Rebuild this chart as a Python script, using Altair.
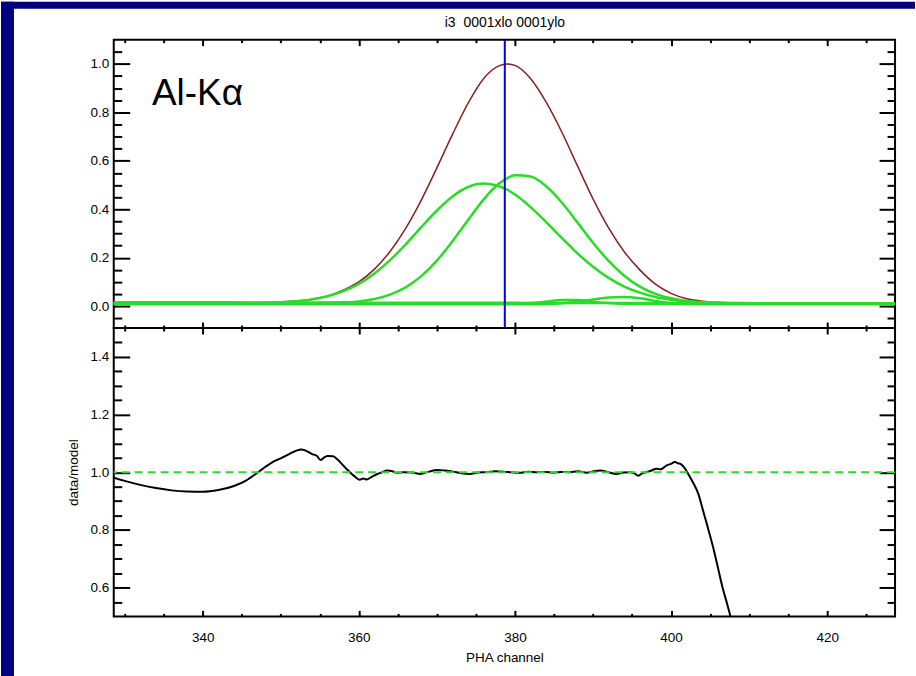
import altair as alt
import pandas as pd

# ---------------- data ----------------
X_TOP = [328, 332, 336, 340, 344, 348, 351, 354, 356, 358,
         360, 362, 364, 366, 368, 370, 372, 374, 376, 378,
         379, 380, 382, 384, 386, 388, 390, 392, 394, 396,
         398, 400, 402, 404, 407, 411, 416, 422, 429]

TOTAL_MODEL = [0.012, 0.012, 0.012, 0.013, 0.013, 0.015, 0.019, 0.029, 0.042, 0.066,
               0.100, 0.153, 0.226, 0.321, 0.438, 0.571, 0.709, 0.838, 0.940, 0.993,
               1.000, 0.994, 0.940, 0.842, 0.719, 0.580, 0.443, 0.323, 0.225, 0.150,
               0.091, 0.053, 0.031, 0.021, 0.014, 0.012, 0.012, 0.012, 0.012]

COMP_A = [0.012, 0.012, 0.012, 0.012, 0.012, 0.014, 0.018, 0.028, 0.041, 0.062,
          0.092, 0.135, 0.190, 0.255, 0.326, 0.395, 0.453, 0.492, 0.506, 0.494,
          0.481, 0.461, 0.409, 0.347, 0.282, 0.218, 0.163, 0.117, 0.081, 0.056,
          0.038, 0.027, 0.020, 0.016, 0.013, 0.012, 0.012, 0.012, 0.012]

COMP_B = [0.012, 0.012, 0.012, 0.012, 0.012, 0.012, 0.012, 0.012, 0.013, 0.016,
          0.020, 0.030, 0.048, 0.078, 0.124, 0.188, 0.268, 0.356, 0.441, 0.507,
          0.528, 0.540, 0.535, 0.495, 0.428, 0.346, 0.262, 0.187, 0.126, 0.081,
          0.051, 0.033, 0.022, 0.017, 0.013, 0.012, 0.012, 0.012, 0.012]

COMP_C = [0.010, 0.010, 0.010, 0.010, 0.010, 0.010, 0.010, 0.010, 0.010, 0.010,
          0.010, 0.010, 0.010, 0.010, 0.010, 0.010, 0.010, 0.010, 0.010, 0.010,
          0.010, 0.011, 0.013, 0.019, 0.026, 0.026, 0.019, 0.013, 0.010, 0.010,
          0.010, 0.010, 0.010, 0.010, 0.010, 0.010, 0.010, 0.010, 0.010]

COMP_D = [0.008, 0.008, 0.008, 0.008, 0.008, 0.008, 0.008, 0.008, 0.008, 0.008,
          0.008, 0.008, 0.008, 0.008, 0.008, 0.008, 0.008, 0.008, 0.008, 0.008,
          0.008, 0.008, 0.008, 0.009, 0.012, 0.018, 0.028, 0.036, 0.038, 0.033,
          0.022, 0.013, 0.009, 0.008, 0.008, 0.008, 0.008, 0.008, 0.008]

COMP_E = [0.016, 0.016, 0.016, 0.016, 0.016, 0.015, 0.015, 0.015, 0.015, 0.015,
          0.015, 0.014, 0.014, 0.014, 0.014, 0.014, 0.014, 0.014, 0.014, 0.014,
          0.014, 0.014, 0.013, 0.013, 0.013, 0.013, 0.013, 0.013, 0.013, 0.013,
          0.013, 0.013, 0.012, 0.012, 0.012, 0.012, 0.012, 0.012, 0.012]

PEAK_CHANNEL = [378.7]
LINE_LABEL = ["Al-Kα"]
LINE_LABEL_X = [333.5]
LINE_LABEL_Y = [0.83]

X_RATIO = [328.0, 330.0, 332.0, 334.0, 336.0, 338.0, 340.0, 342.0, 344.0, 345.6,
           347.0, 348.0, 349.0, 350.0, 351.0, 352.0, 352.6, 353.2, 354.0, 354.6,
           355.1, 355.5, 356.0, 356.7, 357.2, 357.6, 358.4, 359.3, 360.1, 360.6,
           361.0, 361.6, 362.3, 363.0, 363.6, 364.2, 364.9, 365.7, 366.8, 367.9,
           369.0, 370.0, 371.0, 372.1, 373.0, 374.2, 375.3, 376.4, 377.5, 378.5,
           379.5, 380.6, 381.7, 382.8, 383.9, 384.9, 386.0, 387.0, 388.1, 389.2,
           390.1, 390.9, 392.0, 393.0, 393.9, 394.7, 395.3, 395.8, 396.3, 396.8,
           397.5, 398.1, 398.7, 399.4, 399.9, 400.5, 400.9, 401.3, 401.8, 402.2,
           402.8, 403.5, 404.1, 404.7, 405.4, 406.0, 406.6, 407.2, 407.8, 408.5]

RATIO = [0.986, 0.970, 0.956, 0.945, 0.937, 0.933, 0.932, 0.938, 0.952, 0.972,
         0.998, 1.018, 1.036, 1.048, 1.062, 1.075, 1.079, 1.075, 1.063, 1.057,
         1.042, 1.050, 1.056, 1.055, 1.046, 1.035, 1.012, 0.989, 0.974, 0.978,
         0.975, 0.983, 0.993, 1.000, 1.006, 1.004, 0.998, 1.000, 0.999, 0.994,
         1.002, 1.008, 1.006, 1.002, 0.997, 0.994, 0.999, 1.000, 1.003, 1.002,
         1.000, 0.998, 1.002, 1.000, 1.001, 0.998, 1.001, 1.000, 1.003, 0.998,
         1.003, 1.006, 1.000, 0.994, 0.999, 1.000, 0.996, 0.988, 0.996, 1.000,
         1.006, 1.012, 1.010, 1.023, 1.028, 1.035, 1.031, 1.027, 1.012, 0.994,
         0.965, 0.925, 0.867, 0.809, 0.739, 0.670, 0.600, 0.542, 0.480, 0.400]

UNITY = [1.0]

TITLE = "i3\u00a0 0001xlo 0001ylo"
X_TITLE = "PHA channel"
RATIO_TITLE = "data/model"

X_DOMAIN = [328.6, 428.7]
Y_TOP_DOMAIN = [-0.09, 1.10]
Y_BOT_DOMAIN = [0.5, 1.5]

X_MAJOR = [340, 360, 380, 400, 420]
X_MINOR = [330, 335, 345, 350, 355, 365, 370, 375, 385, 390, 395, 405, 410, 415, 425]
Y_TOP_MAJOR = [0.0, 0.2, 0.4, 0.6, 0.8, 1.0]
Y_TOP_MINOR = [-0.05, 0.05, 0.1, 0.15, 0.25, 0.3, 0.35, 0.45, 0.5, 0.55,
               0.65, 0.7, 0.75, 0.85, 0.9, 0.95, 1.05]
Y_BOT_MAJOR = [0.6, 0.8, 1.0, 1.2, 1.4]
Y_BOT_MINOR = [0.55, 0.65, 0.7, 0.75, 0.85, 0.9, 0.95, 1.05, 1.1, 1.15,
               1.25, 1.3, 1.35, 1.45]

# ---------------- style ----------------
W, H = 783, 289
FONT = "Liberation Sans"
NAVY = "#000080"
GREEN = "#28dc28"
BROWN = "#8b1e1e"
BLUE = "#0000ee"

# ---------------- tables ----------------
total_df = pd.DataFrame({"ch": X_TOP, "val": TOTAL_MODEL})
comp_df = pd.concat(
    [pd.DataFrame({"ch": X_TOP, "val": v, "comp": n})
     for n, v in [("a", COMP_A), ("b", COMP_B), ("c", COMP_C), ("d", COMP_D), ("e", COMP_E)]],
    ignore_index=True)
peak_df = pd.DataFrame({"ch": PEAK_CHANNEL})
label_df = pd.DataFrame({"ch": LINE_LABEL_X, "val": LINE_LABEL_Y, "txt": LINE_LABEL})
ratio_df = pd.DataFrame({"ch": X_RATIO, "ratio": RATIO})
unity_df = pd.DataFrame({"ratio": UNITY})
frame_df = pd.DataFrame({"k": [0]})

xs = alt.Scale(domain=X_DOMAIN, nice=False, zero=False)
ys_top = alt.Scale(domain=Y_TOP_DOMAIN, nice=False, zero=False)
ys_bot = alt.Scale(domain=Y_BOT_DOMAIN, nice=False, zero=False)


def tick_axis(orient, values, size, **extra):
    opts = dict(orient=orient, values=values, tickSize=size, offset=-size,
                domain=False, grid=False, ticks=True, tickWidth=2,
                tickColor="black", minExtent=0, labelFlush=False,
                labelOverlap=False, labels=False, title=None)
    opts.update(extra)
    return alt.Axis(**opts)


def axis_layers(data, yfield, yscale, x_axes, y_axes):
    out = []
    for a in x_axes:
        out.append(alt.Chart(data).mark_point(opacity=0, clip=True).encode(
            x=alt.X("ch:Q", scale=xs, axis=a),
            y=alt.Y(f"{yfield}:Q", scale=yscale, axis=None)))
    for a in y_axes:
        out.append(alt.Chart(data).mark_point(opacity=0, clip=True).encode(
            x=alt.X("ch:Q", scale=xs, axis=None),
            y=alt.Y(f"{yfield}:Q", scale=yscale, axis=a)))
    return out


# ---------------- top panel ----------------
strip_left = alt.Chart(frame_df).mark_rect(color=NAVY).encode(
    x=alt.value(-113), x2=alt.value(-100), y=alt.value(-38), y2=alt.value(638))
strip_top = alt.Chart(frame_df).mark_rect(color=NAVY).encode(
    x=alt.value(-113), x2=alt.value(803), y=alt.value(-38), y2=alt.value(-31))

brown = alt.Chart(total_df).mark_line(color=BROWN, strokeWidth=1.5, clip=True,
                                      interpolate="monotone").encode(
    x=alt.X("ch:Q", scale=xs, axis=None),
    y=alt.Y("val:Q", scale=ys_top, axis=None))

greens = alt.Chart(comp_df).mark_line(color=GREEN, strokeWidth=2.5, clip=True,
                                      interpolate="monotone").encode(
    x=alt.X("ch:Q", scale=xs, axis=None),
    y=alt.Y("val:Q", scale=ys_top, axis=None),
    detail="comp:N")

blue = alt.Chart(peak_df).mark_rule(color=BLUE, strokeWidth=2).encode(
    x=alt.X("ch:Q", scale=xs, axis=None))

label = alt.Chart(label_df).mark_text(align="left", baseline="alphabetic",
                                      fontSize=37, font=FONT, color="black").encode(
    x=alt.X("ch:Q", scale=xs, axis=None),
    y=alt.Y("val:Q", scale=ys_top, axis=None),
    text="txt:N")

top_axes = axis_layers(
    total_df, "val", ys_top,
    [tick_axis("top", X_MAJOR, 6, title=TITLE, titlePadding=9, titleFontSize=14),
     tick_axis("top", X_MINOR, 3),
     tick_axis("bottom", X_MAJOR, 6),
     tick_axis("bottom", X_MINOR, 3)],
    [tick_axis("left", Y_TOP_MAJOR, 16, labels=True, labelPadding=5, format=".1f"),
     tick_axis("left", Y_TOP_MINOR, 8),
     tick_axis("right", Y_TOP_MAJOR, 16),
     tick_axis("right", Y_TOP_MINOR, 8)])

top = alt.layer(strip_left, strip_top, brown, greens, blue, label, *top_axes).properties(
    width=W, height=H).resolve_axis(x="independent", y="independent")

# ---------------- bottom panel ----------------
ratio_line = alt.Chart(ratio_df).mark_line(color="black", strokeWidth=2, clip=True,
                                           interpolate="monotone").encode(
    x=alt.X("ch:Q", scale=xs, axis=None),
    y=alt.Y("ratio:Q", scale=ys_bot, axis=None))

unity = alt.Chart(unity_df).mark_rule(color=GREEN, strokeWidth=2, strokeDash=[8, 5]).encode(
    y=alt.Y("ratio:Q", scale=ys_bot, axis=None))

bot_axes = axis_layers(
    ratio_df, "ratio", ys_bot,
    [tick_axis("bottom", X_MAJOR, 6, labels=True, labelPadding=14, format="d",
               title=X_TITLE, titlePadding=7),
     tick_axis("bottom", X_MINOR, 3),
     tick_axis("top", X_MAJOR, 6),
     tick_axis("top", X_MINOR, 3)],
    [tick_axis("left", Y_BOT_MAJOR, 16, labels=True, labelPadding=5, format=".1f",
               title=RATIO_TITLE, titlePadding=10),
     tick_axis("left", Y_BOT_MINOR, 8),
     tick_axis("right", Y_BOT_MAJOR, 16),
     tick_axis("right", Y_BOT_MINOR, 8)])

bottom = alt.layer(ratio_line, unity, *bot_axes).properties(
    width=W, height=H).resolve_axis(x="independent", y="independent")

chart = alt.vconcat(top, bottom, spacing=0, bounds="flush").properties(
    padding=0, background="white"
).configure_view(
    stroke="black", strokeWidth=2
).configure_axis(
    labelFont=FONT, titleFont=FONT, labelFontSize=13.5, titleFontSize=13.5,
    labelColor="black", titleColor="black", titleFontWeight="normal"
)

chart.save("out.html", embed_options={"renderer": "svg", "actions": False})
